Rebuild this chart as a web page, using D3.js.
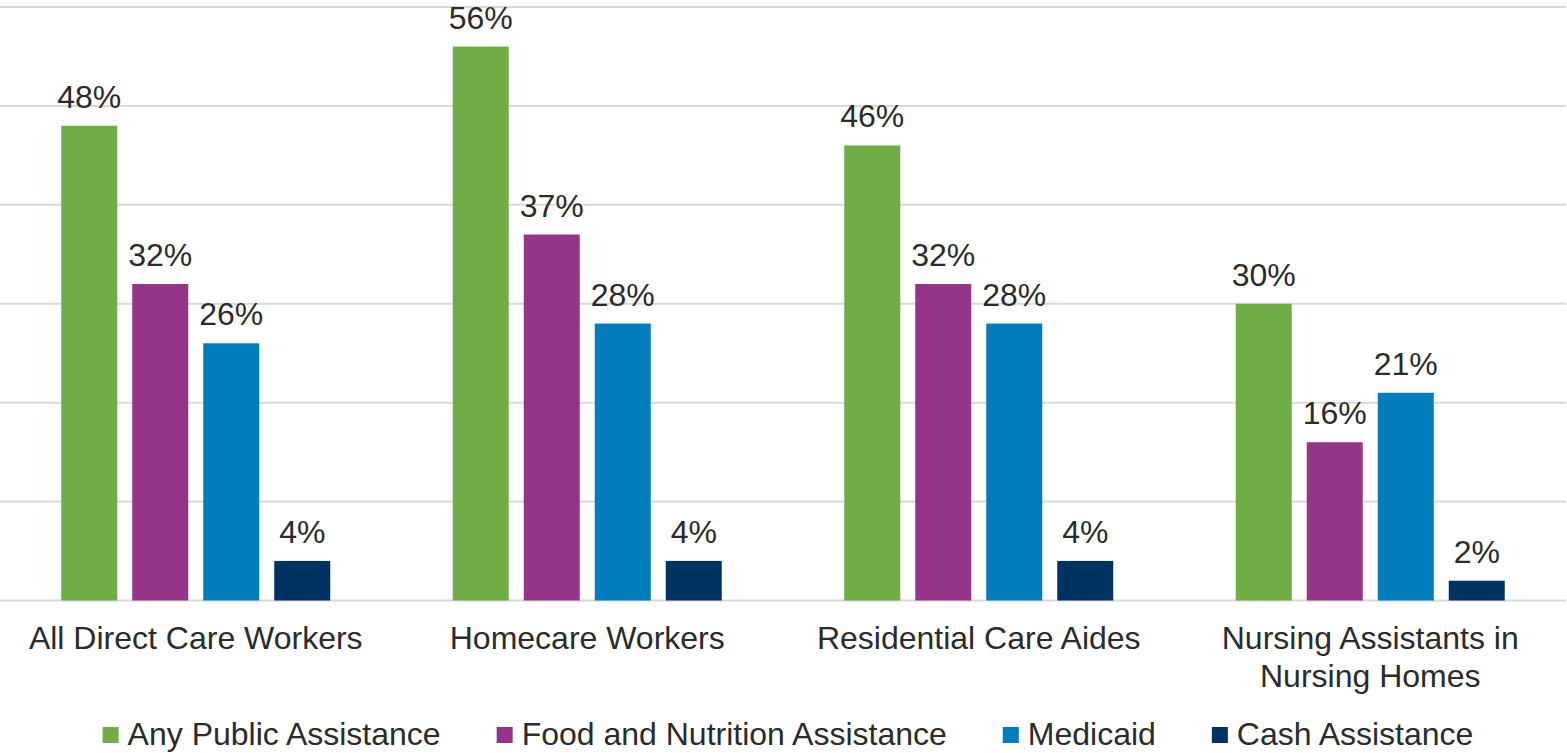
<!DOCTYPE html>
<html>
<head>
<meta charset="utf-8">
<script src="https://cdn.jsdelivr.net/npm/d3@7"></script>
<style>
  html, body { margin: 0; padding: 0; background: #ffffff; }
  svg { display: block; }
</style>
</head>
<body>
<div id="chart"></div>
<script>
// ---DATA---//
var categories = [ "All Direct Care Workers", "Homecare Workers", "Residential Care Aides", "Nursing Assistants in Nursing Homes" ];
var series = [ "Any Public Assistance", "Food and Nutrition Assistance", "Medicaid", "Cash Assistance" ];
var anyPublic = [ 48, 56, 46, 30 ];
var foodNutrition = [ 32, 37, 32, 16 ];
var medicaid = [ 26, 28, 28, 21 ];
var cashAssistance = [ 4, 4, 4, 2 ];
var yTicks = [ 0, 10, 20, 30, 40, 50, 60 ];

var seriesValues = [ anyPublic, foodNutrition, medicaid, cashAssistance ];
var colors = [ "#70ad47", "#943589", "#007dba", "#003361" ];

// ---LAYOUT---//
var width = 1567;
var height = 753;
var fontFamily = "Arial, 'Liberation Sans', sans-serif";
var textColor = "#2b2b2b";
var fontSize = 32;

var svg = d3.select("#chart").append("svg")
	.attr("width", width)
	.attr("height", height);

var x0 = d3.scaleBand()
	.domain(categories)
	.range([ 0, 1566 ])
	.padding(0);

var x1 = d3.scaleBand()
	.domain(series)
	.range([ 0, 269 ])
	.paddingInner(15 / 71)
	.paddingOuter(0);

var groupOffset = (x0.bandwidth() - 269) / 2;

var y = d3.scaleLinear()
	.domain([ 0, 60 ])
	.range([ 600.5, 7 ]);

// gridlines
svg.append("g").attr("class", "grid")
	.selectAll("line").data(yTicks).enter()
	.append("line")
	.attr("x1", 0)
	.attr("x2", 1566)
	.attr("y1", function(d) { return y(d); })
	.attr("y2", function(d) { return y(d); })
	.attr("stroke", "#d9d9d9")
	.attr("stroke-width", 2);

// bars
var rows = [];
categories.forEach(function(c, i) {
	series.forEach(function(s, j) {
		rows.push({ category: c, series: s, value: seriesValues[j][i], color: colors[j] });
	});
});

var bars = svg.append("g").attr("class", "bars");

bars.selectAll("rect").data(rows).enter()
	.append("rect")
	.attr("x", function(d) { return x0(d.category) + groupOffset + x1(d.series); })
	.attr("y", function(d) { return y(d.value); })
	.attr("width", x1.bandwidth())
	.attr("height", function(d) { return y(0) - y(d.value); })
	.attr("fill", function(d) { return d.color; });

// value labels
bars.selectAll("text").data(rows).enter()
	.append("text")
	.attr("x", function(d) { return x0(d.category) + groupOffset + x1(d.series) + x1.bandwidth() / 2; })
	.attr("y", function(d) { return y(d.value) - 18; })
	.attr("text-anchor", "middle")
	.attr("font-family", fontFamily)
	.attr("font-size", fontSize + "px")
	.attr("fill", textColor)
	.text(function(d) { return d.value + "%"; });

// category labels, wrapped
var catLabels = svg.append("g").attr("class", "categories");

categories.forEach(function(c) {
	var t = catLabels.append("text")
		.attr("x", x0(c) + x0.bandwidth() / 2)
		.attr("y", 649)
		.attr("text-anchor", "middle")
		.attr("font-family", fontFamily)
		.attr("font-size", fontSize + "px")
		.attr("fill", textColor);

	var words = c.split(" ");
	var line = [];
	var tspan = t.append("tspan").attr("x", x0(c) + x0.bandwidth() / 2).attr("dy", 0);

	words.forEach(function(w) {
		line.push(w);
		tspan.text(line.join(" "));
		if (tspan.node().getComputedTextLength() > 370 && line.length > 1) {
			line.pop();
			tspan.text(line.join(" "));
			line = [ w ];
			tspan = t.append("tspan")
				.attr("x", x0(c) + x0.bandwidth() / 2)
				.attr("dy", 38)
				.text(w);
		}
	});
});

// legend
var legend = svg.append("g").attr("class", "legend");
var markerSize = 16;
var markerGap = 9;
var itemGap = 56;

var items = legend.selectAll("g").data(series).enter().append("g");

items.append("rect")
	.attr("x", 0)
	.attr("y", 727)
	.attr("width", markerSize)
	.attr("height", markerSize)
	.attr("fill", function(d, i) { return colors[i]; });

items.append("text")
	.attr("x", markerSize + markerGap)
	.attr("y", 745)
	.attr("font-family", fontFamily)
	.attr("font-size", fontSize + "px")
	.attr("fill", textColor)
	.text(function(d) { return d; });

var itemWidths = [];
items.each(function() {
	itemWidths.push(markerSize + markerGap + d3.select(this).select("text").node().getComputedTextLength());
});

var totalWidth = d3.sum(itemWidths) + itemGap * (itemWidths.length - 1);
var cursor = 788 - totalWidth / 2;

items.attr("transform", function(d, i) {
	var tx = cursor;
	cursor += itemWidths[i] + itemGap;
	return "translate(" + tx + ",0)";
});
</script>
</body>
</html>
